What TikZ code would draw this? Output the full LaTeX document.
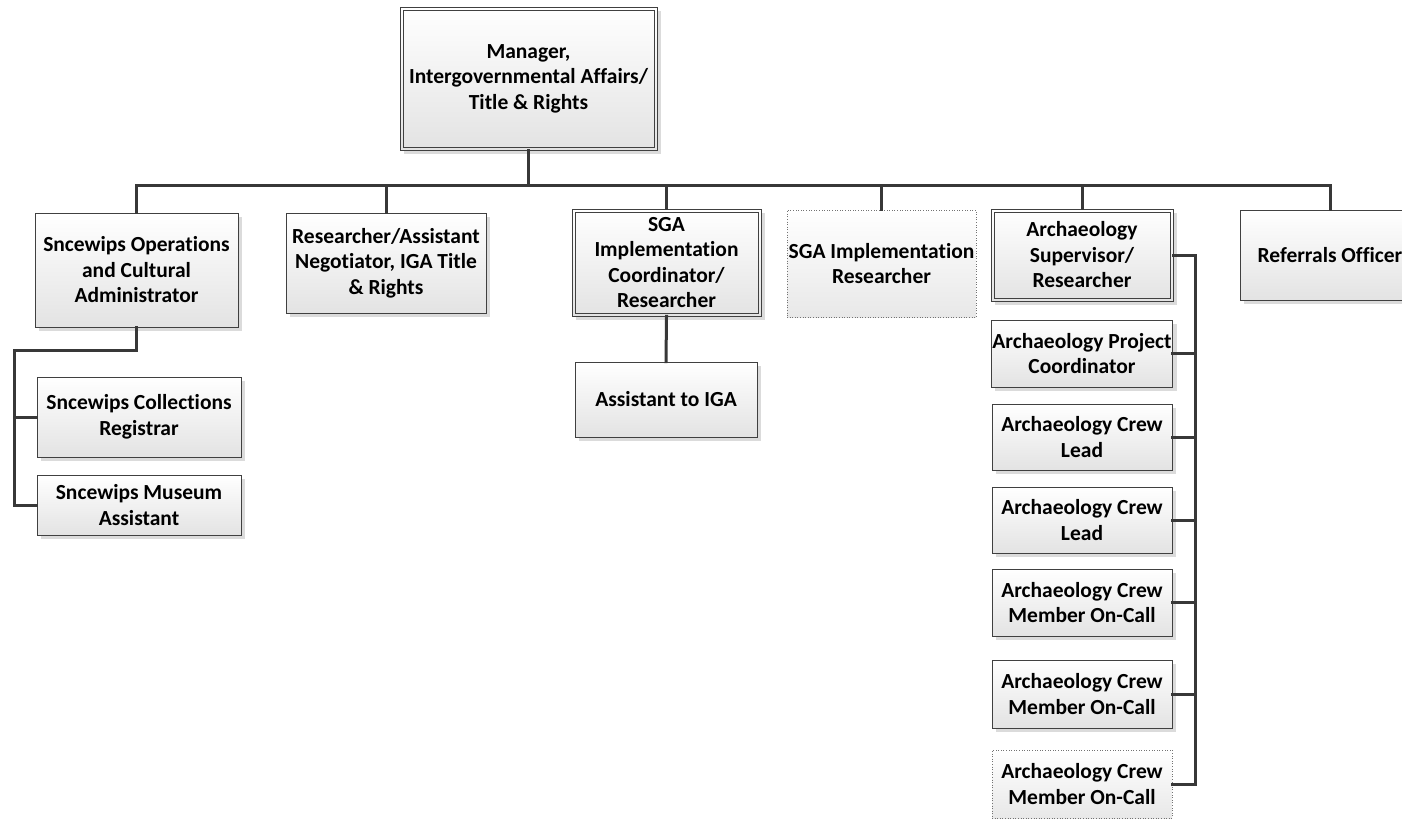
\documentclass[tikz,border=0pt]{standalone}
\usepackage{fontspec}
\setmainfont{Carlito}[Ligatures={NoCommon,TeX}]
\usetikzlibrary{shadows}
\definecolor{edge}{HTML}{404040}
\definecolor{linec}{HTML}{383838}
\tikzset{
  x=1pt, y=-1pt,
  box/.style={draw=edge, line width=0.8pt, top color=white, bottom color=black!11,
    align=center, font=\bfseries\fontsize{21.5}{25.5}\selectfont, inner sep=1pt, text=black,
    drop shadow={shadow xshift=4pt, shadow yshift=-4pt, fill=black!14, opacity=1}},
  vacant/.style={draw=black!55, line width=0.6pt, dotted, top color=white, bottom color=black!9,
    align=center, font=\bfseries\fontsize{21.5}{25.5}\selectfont, inner sep=1pt, text=black},
  innerframe/.style={draw=edge, line width=0.8pt},
  conn/.style={draw=linec, line width=3pt, line cap=rect},
}
\begin{document}
\begin{tikzpicture}
\useasboundingbox (0,0) rectangle (1402,819);
\clip (0,0) rectangle (1402,819);

% top manager
\node[box, minimum width=257, minimum height=143] (mgr) at (528.5,78.5)
  {Manager,\\Intergovernmental Affairs/\\Title \& Rights};
\draw[innerframe] ([shift={(3.5,3.5)}]mgr.north west) rectangle ([shift={(-3.5,-3.5)}]mgr.south east);

% first level
\node[box, minimum width=203, minimum height=114] (ops) at (136.5,270)
  {Sncewips Operations\\and Cultural\\Administrator};
\node[box, minimum width=200, minimum height=100] (res) at (386,263)
  {Researcher/Assistant\\Negotiator, IGA Title\\\& Rights};
\node[box, minimum width=189, minimum height=107] (sgac) at (666.5,262.5)
  {SGA\\Implementation\\Coordinator/\\Researcher};
\draw[innerframe] ([shift={(3.5,3.5)}]sgac.north west) rectangle ([shift={(-3.5,-3.5)}]sgac.south east);
\node[vacant, minimum width=189, minimum height=107] (sgar) at (881.5,263.5)
  {SGA Implementation\\Researcher};
\node[box, minimum width=182, minimum height=92] (arch) at (1082,255)
  {Archaeology\\Supervisor/\\Researcher};
\draw[innerframe] ([shift={(3.5,3.5)}]arch.north west) rectangle ([shift={(-3.5,-3.5)}]arch.south east);
\node[box, minimum width=180, minimum height=90] (ref) at (1330,255)
  {Referrals Officer};

% under operations
\node[box, minimum width=204, minimum height=80] (coll) at (139,417)
  {Sncewips Collections\\Registrar};
\node[box, minimum width=204, minimum height=60] (mus) at (139,505)
  {Sncewips Museum\\Assistant};

% under SGA coordinator
\node[box, minimum width=182, minimum height=75] (aiga) at (666,399.5)
  {Assistant to IGA};

% under archaeology supervisor
\node[box, minimum width=180, minimum height=67] (apc) at (1082,353.5)
  {Archaeology Project\\Coordinator};
\node[box, minimum width=180, minimum height=66] (cl1) at (1082,437)
  {Archaeology Crew\\Lead};
\node[box, minimum width=180, minimum height=66] (cl2) at (1082,520)
  {Archaeology Crew\\Lead};
\node[box, minimum width=180, minimum height=67] (cm1) at (1082,602.5)
  {Archaeology Crew\\Member On-Call};
\node[box, minimum width=180, minimum height=68] (cm2) at (1082,694)
  {Archaeology Crew\\Member On-Call};
\node[vacant, minimum width=180, minimum height=68] (cm3) at (1082,784)
  {Archaeology Crew\\Member On-Call};

% connectors
\coordinate (busL) at (136.5,185);
\coordinate (busR) at (1330,185);
\draw[conn] (busL) -- (busR);
\draw[conn] (mgr.south) -- (mgr.south |- busL);
\foreach \n in {ops,res,sgac,sgar,arch,ref}
  \draw[conn] (\n.north) -- (\n.north |- busL);

\coordinate (lrail) at (14,350);
\draw[conn] (ops.south) |- (lrail) -- (lrail |- mus.west) -- (mus.west);
\draw[conn] (lrail |- coll.west) -- (coll.west);

\draw[conn] (sgac.south) -- (aiga.north);

\coordinate (rrail) at (1195,255);
\draw[conn] (arch.east) -- (rrail) -- (rrail |- cm3.east) -- (cm3.east);
\foreach \n in {apc,cl1,cl2,cm1,cm2}
  \draw[conn] (rrail |- \n.east) -- (\n.east);
\end{tikzpicture}
\end{document}
